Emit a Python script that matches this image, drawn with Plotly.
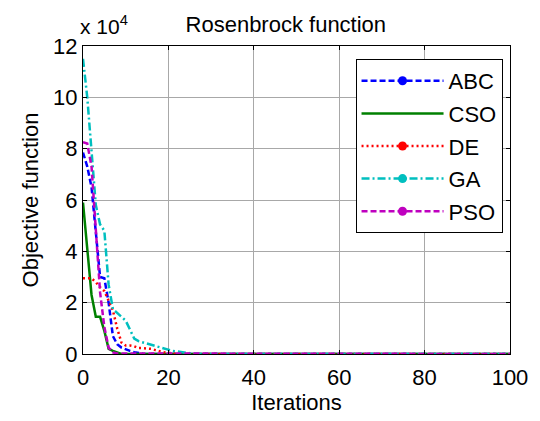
import plotly.graph_objects as go

# values in units of 10^4
abc_x = list(range(0, 16)) + [100]
abc_y = [7.85, 7.3, 6.5, 4.6, 3.0, 2.95, 2.0, 0.7, 0.38, 0.25, 0.17, 0.12, 0.07, 0.03, 0.01, 0, 0]
cso_x = list(range(0, 10)) + [100]
cso_y = [5.9, 4.1, 2.3, 1.45, 1.45, 0.9, 0.2, 0.12, 0.05, 0, 0]
de_x = list(range(0, 24)) + [100]
de_y = [2.95, 2.95, 2.95, 2.8, 2.6, 2.45, 2.1, 1.7, 1.0, 0.45, 0.33, 0.33, 0.3, 0.23, 0.23,
        0.22, 0.2, 0.15, 0.1, 0.07, 0.05, 0.03, 0.02, 0, 0]
ga_x = list(range(0, 28)) + [100]
ga_y = [11.5, 10.0, 7.9, 5.8, 5.05, 4.8, 2.7, 1.75, 1.6, 1.45, 1.3, 0.95, 0.6, 0.5, 0.45, 0.4,
        0.35, 0.3, 0.25, 0.2, 0.16, 0.12, 0.1, 0.07, 0.05, 0.03, 0.02, 0, 0]
pso_x = list(range(0, 9)) + [100]
pso_y = [8.25, 8.2, 7.3, 4.8, 2.4, 1.05, 0.25, 0.06, 0.02, 0, 0]

names = ["ABC", "CSO", "DE", "GA", "PSO"]
xs = [abc_x, cso_x, de_x, ga_x, pso_x]
ys = [abc_y, cso_y, de_y, ga_y, pso_y]
colors = ["#0000FF", "#008000", "#FF0000", "#00BFBF", "#BF00BF"]
dashes = ["6px,3px", "solid", "2px,3px", "8px,3px,2px,3px", "6px,3px"]
has_marker = [True, False, True, True, True]

x_ticks = [0, 20, 40, 60, 80, 100]
y_ticks = [0, 2, 4, 6, 8, 10, 12]

FONT = "Arial, Liberation Sans"

fig = go.Figure()
for n, x, y, c, d in zip(names, xs, ys, colors, dashes):
    fig.add_trace(go.Scatter(x=x, y=y, mode="lines", name=n, showlegend=False,
                             line=dict(color=c, width=2.5, dash=d)))
for i, (n, c, d, m) in enumerate(zip(names, colors, dashes, has_marker)):
    fig.add_trace(go.Scatter(x=[None], y=[None], mode="lines+markers" if m else "lines",
                             name=n, legendgroup=f"g{i}",
                             line=dict(color=c, width=2.5, dash=d),
                             marker=dict(color=c, size=9, symbol="circle")))

axis_common = dict(showline=True, linecolor="black", linewidth=1, mirror="ticks",
                   ticks="inside", ticklen=4, tickcolor="black",
                   showgrid=True, gridcolor="#a8a8a8", gridwidth=1, zeroline=False,
                   tickfont=dict(family=FONT, size=22, color="black"))

fig.update_layout(
    width=540, height=421,
    margin=dict(l=83, r=23, t=46, b=67),
    plot_bgcolor="white", paper_bgcolor="white",
    font=dict(family=FONT, color="black"),
    title=dict(text="Rosenbrock function", x=0.475, xref="paper", xanchor="center",
               y=1 - 24 / 421, yref="container", yanchor="middle",
               font=dict(size=22, color="black")),
    xaxis=dict(range=[0, 100], tickvals=x_ticks, ticktext=[str(v) for v in x_ticks],
               ticklabelstandoff=4,
               title=dict(text="Iterations", font=dict(size=22), standoff=2), **axis_common),
    yaxis=dict(range=[0, 12], tickvals=y_ticks, ticktext=[str(v) for v in y_ticks],
               title=dict(text="Objective function", font=dict(size=22), standoff=8), **axis_common),
    legend=dict(x=(360 - 83) / 434, y=(354 - 59) / 308, xanchor="left", yanchor="top",
                bgcolor="white", bordercolor="black", borderwidth=1,
                font=dict(size=22, color="black"), itemwidth=82, tracegroupgap=1,
                traceorder="grouped"),
    annotations=[dict(text="x 10<sup>4</sup>", xref="paper", yref="paper",
                      x=(78 - 83) / 434, y=(354 - 40) / 308, xanchor="left", yanchor="bottom",
                      showarrow=False, font=dict(size=21, color="black"))],
)

fig.write_html("out.html")
